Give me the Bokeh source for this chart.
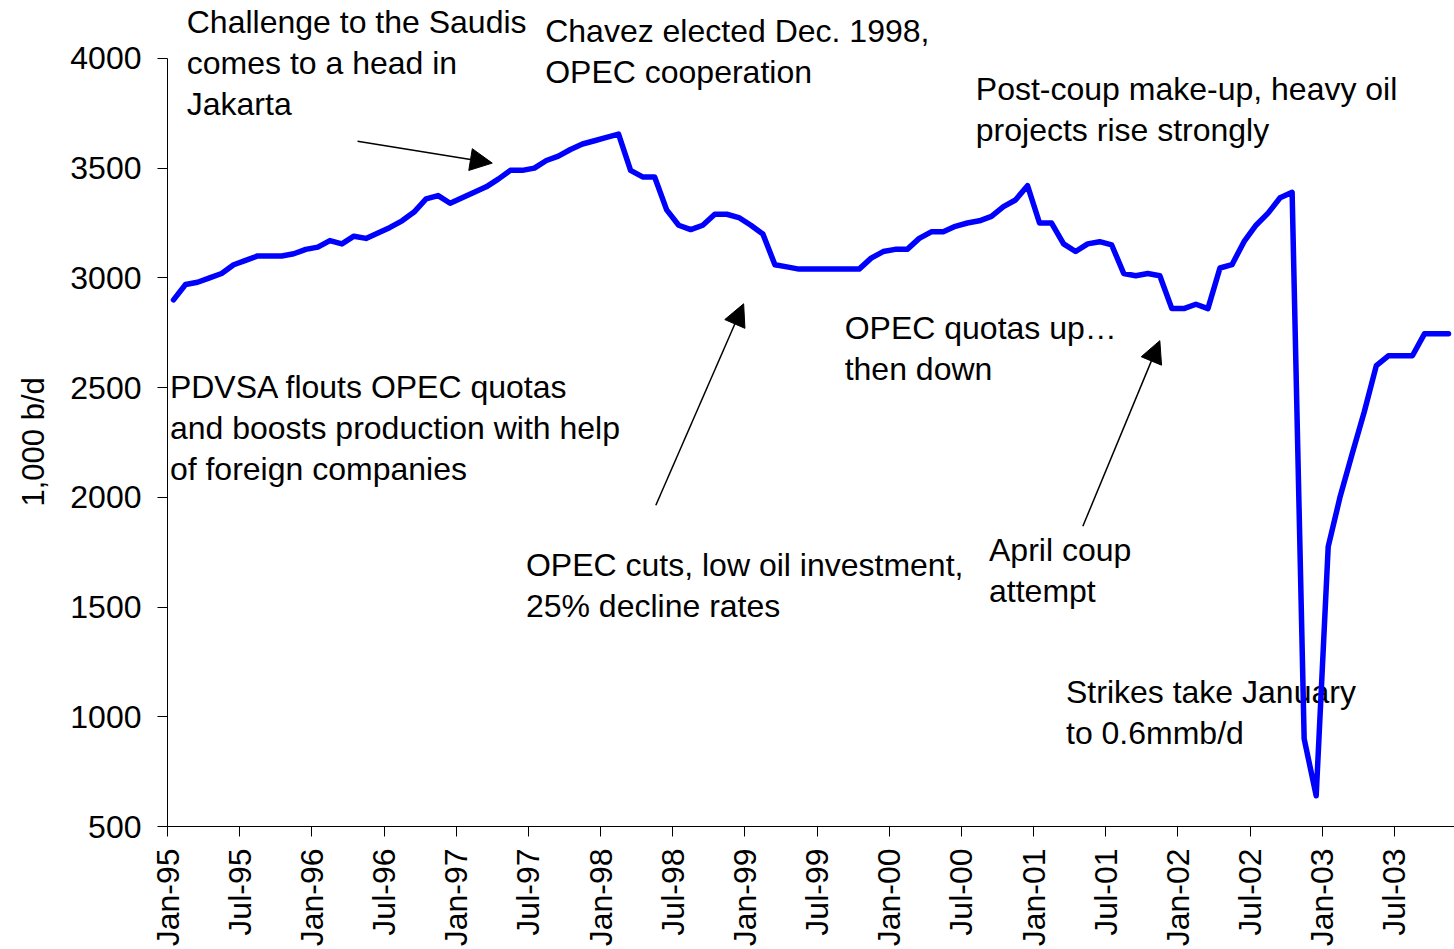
import math
from bokeh.plotting import figure
from bokeh.models import Label, Arrow, NormalHead, FixedTicker, Range1d, Title
from bokeh.embed import file_html
from bokeh.resources import INLINE

# Venezuela oil production, 1,000 b/d, monthly Jan-1995 .. Nov-2003
prod_1995 = [2900, 2970, 2980, 3000, 3020, 3060, 3080, 3100, 3100, 3100, 3110, 3130]
prod_1996 = [3140, 3170, 3155, 3190, 3180, 3205, 3230, 3260, 3300, 3360, 3375, 3340]
prod_1997 = [3365, 3390, 3415, 3450, 3490, 3490, 3500, 3535, 3555, 3585, 3610, 3625]
prod_1998 = [3640, 3655, 3490, 3460, 3460, 3310, 3240, 3220, 3240, 3290, 3290, 3275]
prod_1999 = [3240, 3200, 3060, 3050, 3040, 3040, 3040, 3040, 3040, 3040, 3090, 3120]
prod_2000 = [3130, 3130, 3180, 3210, 3210, 3235, 3250, 3260, 3280, 3325, 3355, 3420]
prod_2001 = [3250, 3250, 3155, 3120, 3155, 3165, 3150, 3020, 3010, 3020, 3010, 2860]
prod_2002 = [2860, 2880, 2860, 3045, 3060, 3165, 3240, 3295, 3365, 3390, 900, 640]
prod_2003 = [1775, 2005, 2200, 2390, 2600, 2645, 2645, 2645, 2745, 2745, 2745]

production = (prod_1995 + prod_1996 + prod_1997 + prod_1998 + prod_1999
              + prod_2000 + prod_2001 + prod_2002 + prod_2003)
# months since Jan-1995, each value plotted at mid-month
month_pos = [m + 0.5 for m in range(len(production))]

tick_labels = ["Jan-95", "Jul-95", "Jan-96", "Jul-96", "Jan-97", "Jul-97",
               "Jan-98", "Jul-98", "Jan-99", "Jul-99", "Jan-00", "Jul-00",
               "Jan-01", "Jul-01", "Jan-02", "Jul-02", "Jan-03", "Jul-03"]
tick_months = [6 * k for k in range(len(tick_labels))]
y_ticks = [500, 1000, 1500, 2000, 2500, 3000, 3500, 4000]
y_title = "1,000 b/d"

# annotation texts: (month position, value, lines)
notes = [
    (1.6, 4168, ["Challenge to the Saudis", "comes to a head in", "Jakarta"]),
    (31.4, 4127, ["Chavez elected Dec. 1998,", "OPEC cooperation"]),
    (67.2, 3859, ["Post-coup make-up, heavy oil", "projects rise strongly"]),
    (0.2, 2505, ["PDVSA flouts OPEC quotas", "and boosts production with help", "of foreign companies"]),
    (29.8, 1691, ["OPEC cuts, low oil investment,", "25% decline rates"]),
    (56.3, 2773, ["OPEC quotas up\u2026", "then down"]),
    (68.3, 1759, ["April coup", "attempt"]),
    (74.7, 1114, ["Strikes take January", "to 0.6mmb/d"]),
]
note_line_step = 187  # value units between text lines

# arrows: (x_start, y_start, x_end, y_end)
arrows = [
    (15.8, 3623, 27.0, 3523),
    (40.6, 1964, 47.9, 2882),
    (76.1, 1868, 82.5, 2714),
]

FONT = "Liberation Sans"

p = figure(width=1454, height=949, output_backend="svg", toolbar_location=None,
           x_range=Range1d(0, 107), y_range=Range1d(500, 4264),
           min_border_left=167, min_border_top=0, min_border_right=0,
           min_border_bottom=121)
p.outline_line_color = None
p.xgrid.grid_line_color = None
p.ygrid.grid_line_color = None
p.background_fill_color = "white"
p.border_fill_color = "white"

p.line(month_pos, production, line_color="#0000FF", line_width=5.5,
       line_join="round", line_cap="round")

for ax in (p.xaxis, p.yaxis):
    ax.axis_line_color = "black"
    ax.axis_line_width = 1
    ax.major_tick_line_color = "black"
    ax.major_tick_in = 0
    ax.major_tick_out = 10
    ax.minor_tick_line_color = None
    ax.major_label_text_font = FONT
    ax.major_label_text_font_size = "32px"
    ax.major_label_text_color = "black"

p.xaxis.ticker = FixedTicker(ticks=tick_months)
p.xaxis.major_label_overrides = {m: lab for m, lab in zip(tick_months, tick_labels)}
p.xaxis.major_label_orientation = math.pi / 2
p.xaxis.major_label_standoff = 12

p.yaxis.ticker = FixedTicker(ticks=y_ticks)
p.yaxis.bounds = (500, 4000)
p.yaxis.major_label_standoff = 16

# y-axis title, centred on the 500-4000 axis line (placed as a side title)
p.add_layout(Title(text=y_title, text_font=FONT, text_font_size="31px",
                   text_font_style="normal", text_color="black",
                   align="left", vertical_align="top",
                   offset=320, standoff=30), "left")

for nx, ny, lines in notes:
    for j, t in enumerate(lines):
        p.add_layout(Label(x=nx, y=ny - j * note_line_step, text=t,
                           text_font=FONT, text_font_size="32px",
                           text_baseline="middle", text_align="left",
                           text_color="black", level="underlay"))

for xs, ys, xe, ye in arrows:
    p.add_layout(Arrow(end=NormalHead(size=22, fill_color="black", line_color="black"),
                       x_start=xs, y_start=ys, x_end=xe, y_end=ye,
                       line_width=1.5, line_color="black"))

open("out.html", "w").write(file_html(p, INLINE))
